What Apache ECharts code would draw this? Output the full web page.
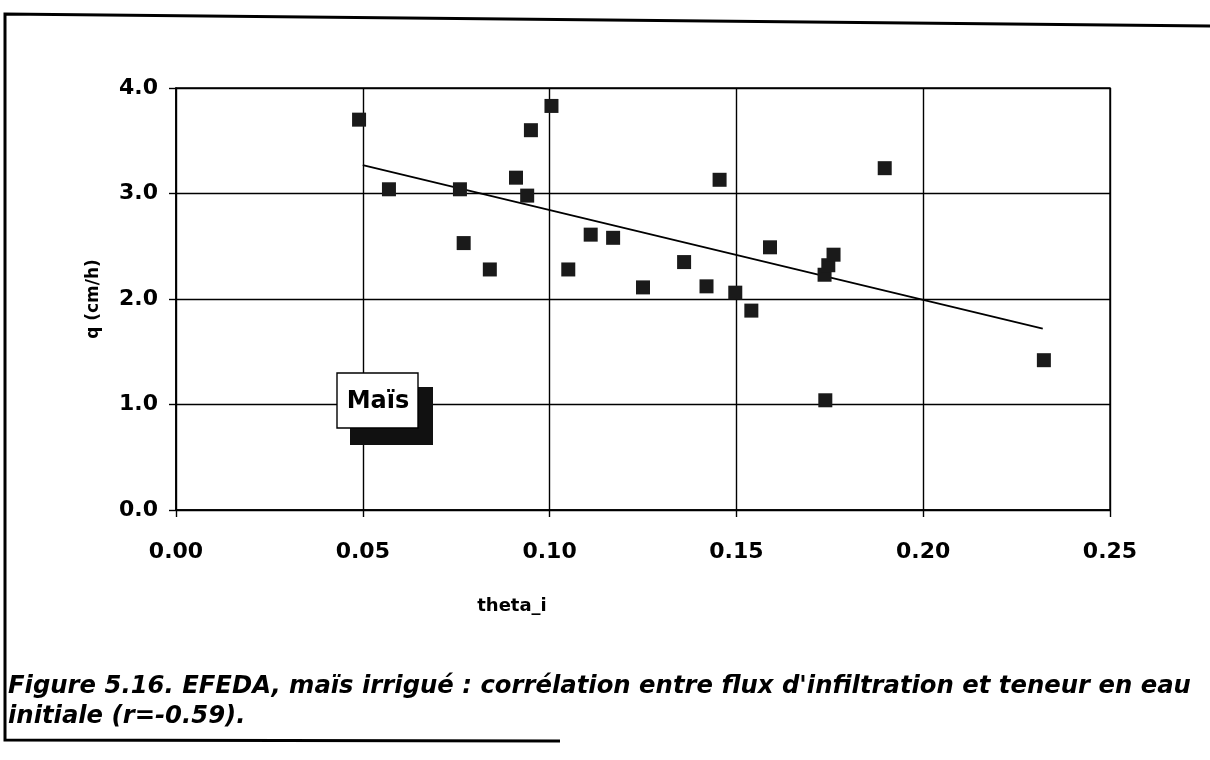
<!DOCTYPE html>
<html><head><meta charset="utf-8">
<script src="https://cdn.jsdelivr.net/npm/echarts@6/dist/echarts.min.js"></script>
<style>html,body{margin:0;padding:0;background:#fff}#c{width:1210px;height:760px}</style>
</head><body><div id="c"></div>
<script>
const thetaValues = [0.049, 0.057, 0.076, 0.077, 0.084, 0.091, 0.094, 0.095, 0.1005, 0.105, 0.111, 0.117, 0.125, 0.136, 0.142, 0.1455, 0.1497, 0.154, 0.159, 0.1736, 0.1738, 0.1746, 0.176, 0.1897, 0.2323];
const qValues = [3.70, 3.04, 3.04, 2.53, 2.28, 3.15, 2.98, 3.60, 3.83, 2.28, 2.61, 2.58, 2.11, 2.35, 2.12, 3.13, 2.06, 1.89, 2.49, 2.23, 1.04, 2.32, 2.42, 3.24, 1.42];
const trendX = [0.050, 0.232];
const trendY = [3.27, 1.72];
const xTickLabels = ['0.00', '0.05', '0.10', '0.15', '0.20', '0.25'];
const yTickLabels = ['0.0', '1.0', '2.0', '3.0', '4.0'];
const xName = 'theta_i';
const yName = 'q (cm/h)';
const boxLabel = 'Maïs';
const captionLines = ["Figure 5.16. EFEDA, maïs irrigué : corrélation entre flux d'infiltration et teneur en eau", "initiale (r=-0.59)."];

const chart = echarts.init(document.getElementById('c'));
const FONT = '"DejaVu Sans", "Liberation Sans", Arial, sans-serif';
const scatterData = thetaValues.map((x, i) => [x, qValues[i]]);
const trendData = trendX.map((x, i) => [x, trendY[i]]);

chart.setOption({
  animation: false,
  backgroundColor: '#fff',
  grid: { left: 176, right: 100, top: 88, bottom: 250, show: true, borderColor: '#000', borderWidth: 1.4 },
  xAxis: {
    type: 'value', min: 0, max: 0.25, interval: 0.05,
    name: xName, nameLocation: 'middle', nameGap: 87,
    nameTextStyle: { fontFamily: FONT, fontWeight: 'bold', fontSize: 18, color: '#000', padding: [0, 262, 0, 0] },
    axisLine: { show: true, lineStyle: { color: '#000', width: 1.6 } },
    axisTick: { show: true, length: 7, lineStyle: { color: '#000', width: 1.4 } },
    axisLabel: { fontFamily: FONT, fontWeight: 'bold', fontSize: 22, color: '#000', margin: 31,
      formatter: (v) => xTickLabels[Math.round(v / 0.05)] },
    splitLine: { show: true, lineStyle: { color: '#000', width: 1.4 } }
  },
  yAxis: {
    type: 'value', min: 0, max: 4, interval: 1,
    name: yName, nameLocation: 'middle', nameGap: 74,
    nameTextStyle: { fontFamily: FONT, fontWeight: 'bold', fontSize: 17, color: '#000' },
    axisLine: { show: true, lineStyle: { color: '#000', width: 1.6 } },
    axisTick: { show: true, length: 7, lineStyle: { color: '#000', width: 1.4 } },
    axisLabel: { fontFamily: FONT, fontWeight: 'bold', fontSize: 22, color: '#000', margin: 18,
      formatter: (v) => yTickLabels[Math.round(v)] },
    splitLine: { show: true, lineStyle: { color: '#000', width: 1.4 } }
  },
  series: [
    { type: 'line', data: trendData, symbol: 'none', lineStyle: { color: '#000', width: 1.8 }, z: 3 },
    { type: 'scatter', data: scatterData, symbol: 'rect', symbolSize: 14,
      itemStyle: { color: '#1a1a1a', opacity: 1 }, z: 4 }
  ],
  graphic: [
    { type: 'polyline', shape: { points: [[1210, 26], [5, 14], [5, 740], [560, 741]] },
      style: { stroke: '#000', lineWidth: 3, fill: null }, z: 10 },
    { type: 'rect', shape: { x: 350, y: 387, width: 83, height: 58 }, style: { fill: '#111' }, z: 10 },
    { type: 'rect', shape: { x: 337, y: 373, width: 81, height: 55 }, style: { fill: '#fff', stroke: '#000', lineWidth: 1.4 }, z: 11 },
    { type: 'text', x: 378, y: 402, style: { text: boxLabel, fontFamily: FONT, fontWeight: 'bold', fontSize: 24,
      fill: '#000', align: 'center', verticalAlign: 'middle' }, z: 12 },
    { type: 'text', x: 8, y: 687, style: { text: captionLines[0], fontFamily: FONT, fontWeight: 'bold', fontStyle: 'italic',
      fontSize: 24.3, fill: '#000', verticalAlign: 'middle' }, z: 12 },
    { type: 'text', x: 8, y: 717, style: { text: captionLines[1], fontFamily: FONT, fontWeight: 'bold', fontStyle: 'italic',
      fontSize: 24.3, fill: '#000', verticalAlign: 'middle' }, z: 12 }
  ]
});
</script>
</body></html>
